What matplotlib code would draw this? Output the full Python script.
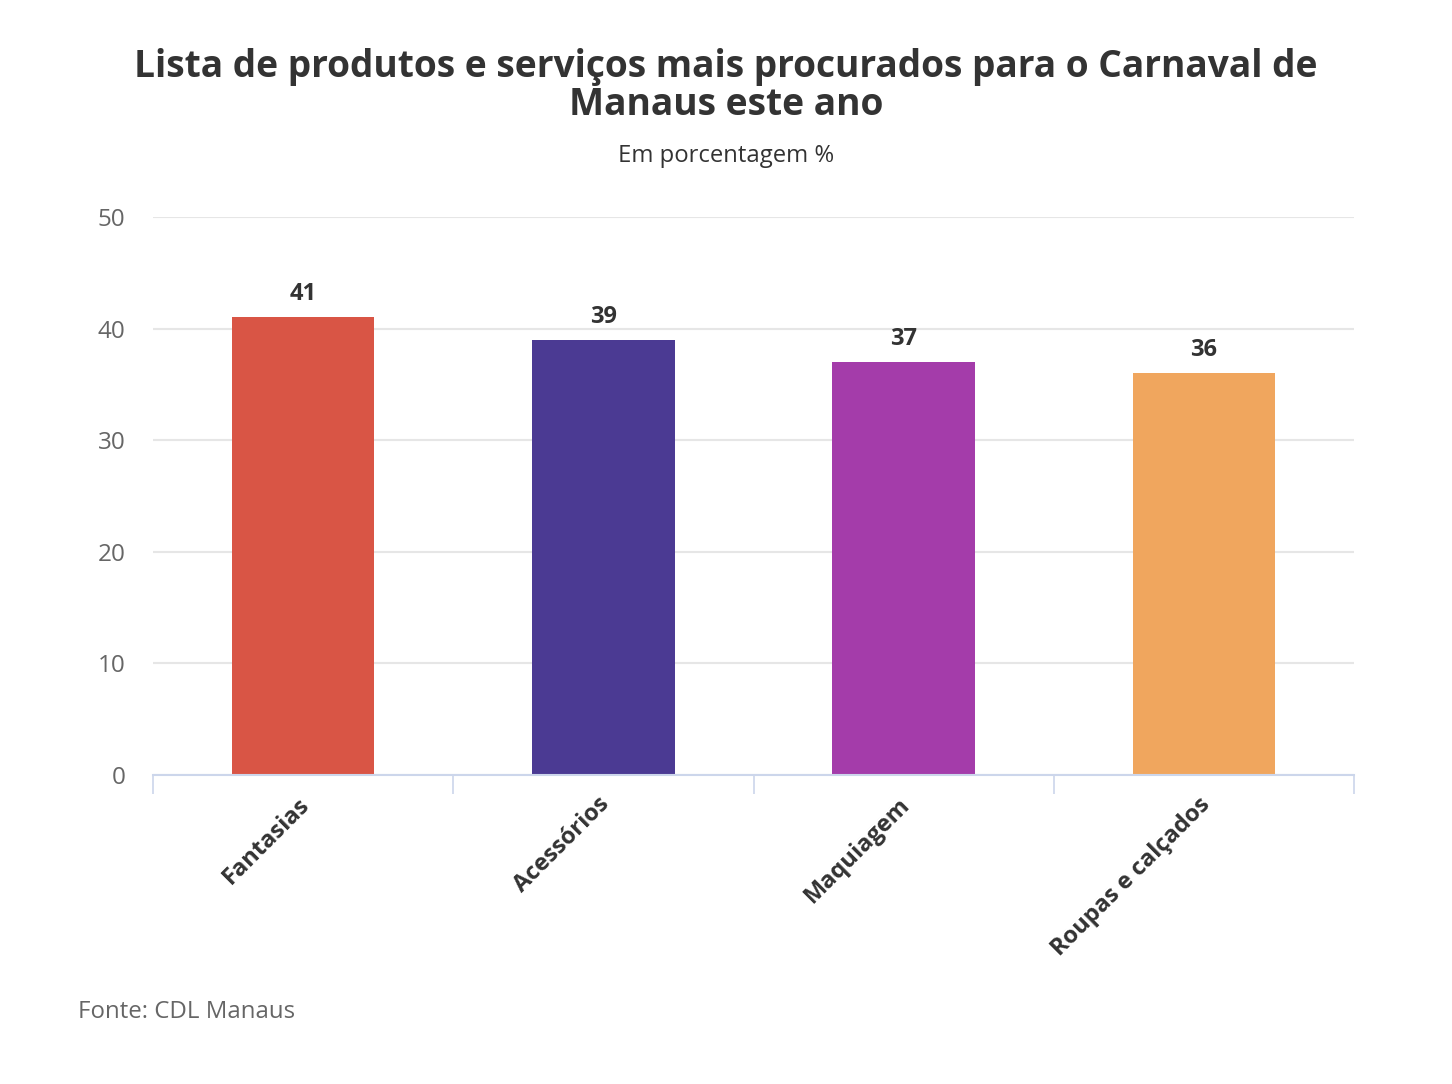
import matplotlib.pyplot as plt
import matplotlib.transforms as mtransforms
import numpy as np

categorias = ['Fantasias', 'Acessórios', 'Maquiagem', 'Roupas e calçados']
valores = [41, 39, 37, 36]
cores = ['#D95545', '#4B3A93', '#A43CAA', '#F0A65E']
yticks = [0, 10, 20, 30, 40, 50]

plt.rcParams['font.family'] = ['Open Sans', 'DejaVu Sans']

fig = plt.figure(figsize=(14.52, 10.84), dpi=100)
# plot area in pixels: x 153..1354, y 217..775
W, H = 1452, 1084
ax = fig.add_axes([153 / W, 1 - 775 / H, (1354 - 153) / W, (775 - 217) / H])

x = np.arange(len(categorias))
ax.bar(x, valores, width=0.475, color=cores, zorder=3)
for xi, v in zip(x, valores):
    ax.annotate(f'{v}', (xi, v), xytext=(0, 8), textcoords='offset points',
                ha='center', va='bottom', fontsize=17, fontweight='bold', color='#333333')

ax.set_xlim(-0.5, len(categorias) - 0.5)
ax.set_ylim(0, 50)
ax.set_yticks(yticks)
ax.set_yticklabels([str(t) for t in yticks], fontsize=17.5, color='#666666')
ax.yaxis.grid(True, color='#e6e6e6', linewidth=1.5, zorder=0)
ax.tick_params(axis='y', length=0, pad=20)

# category boundary ticks
ax.set_xticks(np.arange(-0.5, len(categorias), 1.0))
ax.set_xticklabels([])
ax.tick_params(axis='x', length=14, width=1.2, color='#ccd6eb', direction='out')
ax.set_xticks(x, minor=True)
ax.set_xticklabels(categorias, minor=True, rotation=45, ha='right',
                   rotation_mode='anchor', fontsize=17, fontweight='bold', color='#333333')
ax.tick_params(axis='x', which='minor', length=0, pad=14)
shift = mtransforms.ScaledTranslation(-6 / 100, 2 / 100, fig.dpi_scale_trans)
for lbl in ax.get_xticklabels(minor=True):
    lbl.set_transform(lbl.get_transform() + shift)

for s in ['top', 'right', 'left']:
    ax.spines[s].set_visible(False)
ax.spines['bottom'].set_color('#ccd6eb')
ax.spines['bottom'].set_linewidth(1.5)
ax.spines['bottom'].set_zorder(4)

fig.text(0.5, 1 - 86 / H, 'Lista de produtos e serviços mais procurados para o Carnaval de\nManaus este ano',
         ha='center', va='center', fontsize=26.7, fontweight='bold', color='#333333',
         linespacing=1.02)
fig.text(0.5, 1 - 156 / H, 'Em porcentagem %', ha='center', va='center',
         fontsize=17.2, color='#333333')
fig.text(78 / W, 1 - 1012 / H, 'Fonte: CDL Manaus', ha='left', va='center',
         fontsize=17.3, color='#666666')

fig.savefig('out.png', dpi=100, facecolor='white')
